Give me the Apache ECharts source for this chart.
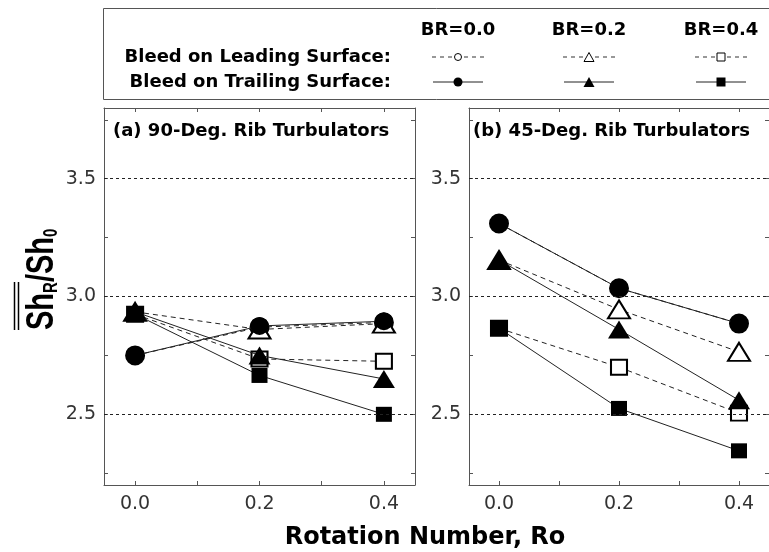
<!DOCTYPE html>
<html>
<head>
<meta charset="utf-8">
<script src="https://cdn.jsdelivr.net/npm/echarts@6/dist/echarts.min.js"></script>
<style>
  html, body { margin: 0; padding: 0; background: #fff; }
  #chart { width: 769px; height: 552px; }
</style>
</head>
<body>
<div id="chart"></div>
<script>
// ---- data ----
const rotationNumber = [0.0, 0.2, 0.4];
const panelTitles = ['(a) 90-Deg. Rib Turbulators', '(b) 45-Deg. Rib Turbulators'];
const brLabels = ['BR=0.0', 'BR=0.2', 'BR=0.4'];
const rowLabels = ['Bleed on Leading Surface:', 'Bleed on Trailing Surface:'];

// (a) 90-deg ribs
const a_lead_br00 = [2.75, 2.87, 2.89];
const a_lead_br02 = [2.935, 2.86, 2.885];
const a_lead_br04 = [2.925, 2.735, 2.725];
const a_trail_br00 = [2.75, 2.875, 2.895];
const a_trail_br02 = [2.935, 2.75, 2.65];
const a_trail_br04 = [2.925, 2.665, 2.50];

// (b) 45-deg ribs
const b_lead_br00 = [3.31, 3.035, 2.885];
const b_lead_br02 = [3.155, 2.945, 2.765];
const b_lead_br04 = [2.865, 2.70, 2.505];
const b_trail_br00 = [3.31, 3.035, 2.885];
const b_trail_br02 = [3.155, 2.86, 2.56];
const b_trail_br04 = [2.865, 2.525, 2.345];

const xTickLabels = [0.0, 0.2, 0.4];
const xTicks = [0.0, 0.1, 0.2, 0.3, 0.4];
const yTickLabels = [2.5, 3.0, 3.5];
const yTicks = [2.25, 2.5, 2.75, 3.0, 3.25, 3.5, 3.75];
const gridValues = [2.5, 3.0, 3.5];

// ---- styling ----
const BOLD = 'DejaVu Sans';
const shapes = ['circle', 'triangle', 'rect'];
const symSizes = [[18, 18], [22, 18], [16, 15]];

const chart = echarts.init(document.getElementById('chart'), null, { renderer: 'canvas' });

const grids = [
  { left: 104, top: 108, width: 311, height: 377 },
  { left: 469, top: 108, width: 309, height: 377 }
];

const xAxes = [], yAxes = [];
grids.forEach((g, gi) => {
  ['bottom', 'top'].forEach(pos => {
    xAxes.push({
      type: 'value', gridIndex: gi, position: pos, min: -0.05, max: 0.45,
      axisLine: { show: true, onZero: false, lineStyle: { color: '#555', width: 1 } },
      axisTick: { show: true, inside: true, length: 4, customValues: xTicks, lineStyle: { color: '#555' } },
      axisLabel: pos === 'bottom' ? {
        show: true, customValues: xTickLabels, margin: 10,
        formatter: v => v.toFixed(1), fontSize: 19, color: '#333', fontFamily: 'DejaVu Sans'
      } : { show: false },
      splitLine: { show: false }
    });
  });
  ['left', 'right'].forEach(pos => {
    yAxes.push({
      type: 'value', gridIndex: gi, position: pos, min: 2.2, max: 3.8,
      axisLine: { show: true, onZero: false, lineStyle: { color: '#555', width: 1 } },
      axisTick: { show: true, inside: true, length: 4, customValues: yTicks, lineStyle: { color: '#555' } },
      axisLabel: pos === 'left' ? {
        show: true, customValues: yTickLabels, margin: 8,
        formatter: v => v.toFixed(1), fontSize: 19, color: '#333', fontFamily: 'DejaVu Sans'
      } : { show: false },
      splitLine: { show: false }
    });
  });
});

const panelData = [
  { lead: [a_lead_br00, a_lead_br02, a_lead_br04], trail: [a_trail_br00, a_trail_br02, a_trail_br04] },
  { lead: [b_lead_br00, b_lead_br02, b_lead_br04], trail: [b_trail_br00, b_trail_br02, b_trail_br04] }
];

const series = [];
panelData.forEach((p, gi) => {
  // grid lines
  series.push({
    type: 'line', xAxisIndex: gi * 2, yAxisIndex: gi * 2, data: [], silent: true,
    markLine: {
      silent: true, symbol: ['none', 'none'], label: { show: false },
      lineStyle: { color: '#222', type: [3, 3], width: 1 },
      data: gridValues.map(v => ({ yAxis: v }))
    }
  });
  p.lead.forEach((vals, k) => {
    series.push({
      name: 'lead' + k, type: 'line', xAxisIndex: gi * 2, yAxisIndex: gi * 2,
      data: rotationNumber.map((x, i) => [x, vals[i]]),
      symbol: shapes[k], symbolSize: symSizes[k], showAllSymbol: true,
      lineStyle: { color: '#222', width: 1, type: [5, 4] },
      itemStyle: { color: '#fff', borderColor: '#000', borderWidth: 2 },
      z: 3, animation: false
    });
  });
  // trailing: squares first, then triangles, circles on top
  [2, 1, 0].forEach(k => {
    const vals = p.trail[k];
    series.push({
      name: 'trail' + k, type: 'line', xAxisIndex: gi * 2, yAxisIndex: gi * 2,
      data: rotationNumber.map((x, i) => [x, vals[i]]),
      symbol: shapes[k], symbolSize: symSizes[k], showAllSymbol: true,
      lineStyle: { color: '#222', width: 1, type: 'solid' },
      itemStyle: { color: '#000', borderColor: '#000', borderWidth: 0 },
      z: 4, animation: false
    });
  });
});

// ---- graphics: legend box, titles, axis names ----
const graphic = [];
graphic.push({ type: 'rect', shape: { x: 103.5, y: 8.5, width: 700, height: 91 },
  style: { fill: 'none', stroke: '#555', lineWidth: 1 }, z: 10 });

const colX = [458, 589, 721];
const rowY = [57, 82];
brLabels.forEach((t, i) => {
  graphic.push({ type: 'text', x: colX[i], y: 30, z: 11,
    style: { text: t, fontFamily: BOLD, fontWeight: 'bold', fontSize: 18, fill: '#000', align: 'center', verticalAlign: 'middle' } });
});
rowLabels.forEach((t, r) => {
  graphic.push({ type: 'text', x: 391, y: rowY[r], z: 11,
    style: { text: t, fontFamily: BOLD, fontWeight: 'bold', fontSize: 18, fill: '#000', align: 'right', verticalAlign: 'middle' } });
});
function legendSymbol(k, cx, cy, filled) {
  const fill = filled ? '#000' : '#fff';
  const s = { fill: fill, stroke: '#000', lineWidth: filled ? 0 : 1 };
  if (k === 0) return { type: 'circle', shape: { cx: cx, cy: cy, r: filled ? 4.5 : 3.5 }, style: s, z: 12 };
  if (k === 1) {
    const w = filled ? 11 : 10, h = filled ? 10 : 9;
    return { type: 'polygon', shape: { points: [[cx, cy - h / 2], [cx + w / 2, cy + h / 2], [cx - w / 2, cy + h / 2]] }, style: s, z: 12 };
  }
  const a = filled ? 9 : 8;
  return { type: 'rect', shape: { x: cx - a / 2, y: cy - a / 2, width: a, height: a }, style: s, z: 12 };
}
colX.forEach((cx, k) => {
  graphic.push({ type: 'line', shape: { x1: cx - 26, y1: rowY[0], x2: cx + 26, y2: rowY[0] },
    style: { stroke: '#333', lineWidth: 1, lineDash: [4, 4] }, z: 11 });
  graphic.push(legendSymbol(k, cx, rowY[0], false));
  graphic.push({ type: 'line', shape: { x1: cx - 25, y1: rowY[1], x2: cx + 25, y2: rowY[1] },
    style: { stroke: '#222', lineWidth: 1 }, z: 11 });
  graphic.push(legendSymbol(k, cx, rowY[1], true));
});

// panel titles
graphic.push({ type: 'text', x: 113, y: 131, z: 11,
  style: { text: panelTitles[0], fontFamily: BOLD, fontWeight: 'bold', fontSize: 18, fill: '#000', align: 'left', verticalAlign: 'middle' } });
graphic.push({ type: 'text', x: 473, y: 131, z: 11,
  style: { text: panelTitles[1], fontFamily: BOLD, fontWeight: 'bold', fontSize: 18, fill: '#000', align: 'left', verticalAlign: 'middle' } });

// x axis name
graphic.push({ type: 'text', x: 425, y: 538, z: 11,
  style: { text: 'Rotation Number, Ro', fontFamily: BOLD, fontWeight: 'bold', fontSize: 24, fill: '#000', align: 'center', verticalAlign: 'middle' } });

// y axis name (rotated, stretched)
graphic.push({
  type: 'group', x: 62, y: 330, rotation: Math.PI / 2, scaleY: 1.35, z: 11,
  children: [{
    type: 'text', x: 0, y: 0,
    style: {
      text: '{m|Sh}{s|R}{m|/Sh}{s|0}',
      align: 'left', verticalAlign: 'bottom',
      rich: {
        m: { fontSize: 29, fontWeight: 'bold', fontFamily: 'Liberation Sans', fill: '#000', verticalAlign: 'bottom' },
        s: { fontSize: 15, fontWeight: 'bold', fontFamily: 'Liberation Sans', fill: '#000', verticalAlign: 'bottom' }
      }
    }
  }]
});
graphic.push({ type: 'line', shape: { x1: 14.5, y1: 282, x2: 14.5, y2: 330 }, style: { stroke: '#000', lineWidth: 1.5 }, z: 11 });
graphic.push({ type: 'line', shape: { x1: 18.5, y1: 282, x2: 18.5, y2: 330 }, style: { stroke: '#000', lineWidth: 1.5 }, z: 11 });

chart.setOption({
  animation: false,
  backgroundColor: '#fff',
  grid: grids,
  xAxis: xAxes,
  yAxis: yAxes,
  series: series,
  graphic: graphic
});
</script>
</body>
</html>
